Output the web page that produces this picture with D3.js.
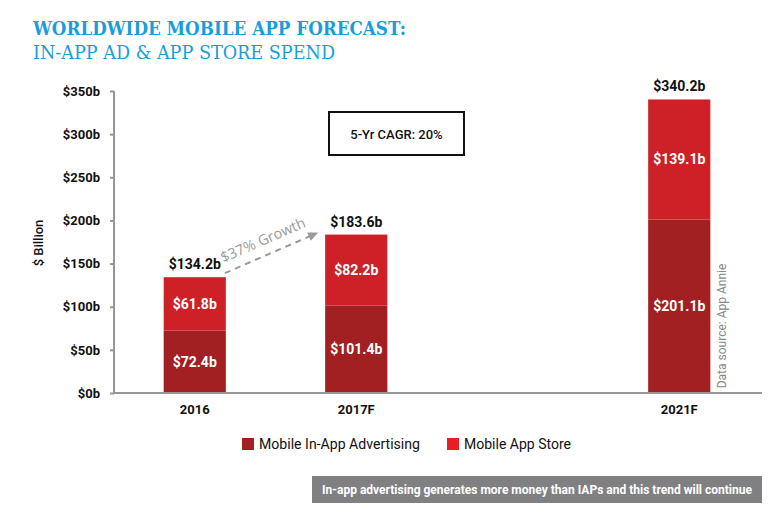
<!DOCTYPE html>
<html><head><meta charset="utf-8">
<script src="https://cdn.jsdelivr.net/npm/d3@7"></script>
<style>
html,body{margin:0;padding:0;background:#fff;}
svg{display:block;font-family:Roboto,"Open Sans",sans-serif;}
</style></head>
<body>
<svg id="c" width="777" height="515"></svg>
<script>
const categories = ["2016", "2017F", "2021F"];
const slots = ["2016", "2017F", "", "2021F"];
const adValues = [72.4, 101.4, 201.1];
const storeValues = [61.8, 82.2, 139.1];
const totals = [134.2, 183.6, 340.2];
const yTicks = [0, 50, 100, 150, 200, 250, 300, 350];
const seriesNames = ["Mobile In-App Advertising", "Mobile App Store"];

const svg = d3.select("#c");
const cAd = "#a21f22", cStore = "#cd2127", cStoreLegend = "#ec1c24";

// Title
svg.append("text").attr("x", 33).attr("y", 35)
  .attr("font-family", "'DejaVu Serif', serif").attr("font-weight", "bold")
  .attr("font-size", 19).attr("fill", "#1a9ddb")
  .attr("textLength", 373).attr("lengthAdjust", "spacingAndGlyphs")
  .text("WORLDWIDE MOBILE APP FORECAST:");
svg.append("text").attr("x", 33).attr("y", 59)
  .attr("font-family", "'DejaVu Serif', serif")
  .attr("font-size", 19).attr("fill", "#1a9ddb")
  .attr("textLength", 302).attr("lengthAdjust", "spacingAndGlyphs")
  .text("IN-APP AD & APP STORE SPEND");

const x = d3.scaleBand().domain(slots).range([114, 760]).paddingInner(0.615).paddingOuter(0.3075);
const y = d3.scaleLinear().domain([0, 350]).range([393, 91]);

// y axis
const yAxis = svg.append("g").attr("transform", "translate(114,0)")
  .call(d3.axisLeft(y).tickValues(yTicks).tickSize(4).tickPadding(10).tickFormat(d => "$" + d + "b"));
yAxis.select(".domain").attr("stroke", "#97979a").attr("stroke-width", 2).attr("d", `M0,${y(350)}V${y(0)}`);
yAxis.selectAll(".tick line").attr("stroke", "#97979a").attr("stroke-width", 2);
yAxis.selectAll(".tick text").attr("font-family", "Roboto, sans-serif").attr("font-weight", "bold")
  .attr("font-size", 13).attr("fill", "#111");

svg.append("text").attr("transform", "translate(43,243) rotate(-90)")
  .attr("text-anchor", "middle").attr("font-size", 13).attr("font-weight", 500).attr("fill", "#111")
  .text("$ Billion");

// bars
const bw = x.bandwidth();
categories.forEach((c, i) => {
  const x0 = x(c);
  svg.append("rect").attr("x", x0).attr("width", bw)
    .attr("y", y(adValues[i])).attr("height", y(0) - y(adValues[i])).attr("fill", cAd);
  svg.append("rect").attr("x", x0).attr("width", bw)
    .attr("y", y(totals[i])).attr("height", y(adValues[i]) - y(totals[i])).attr("fill", cStore);
  svg.append("text").attr("x", x0 + bw / 2).attr("y", (y(0) + y(adValues[i])) / 2)
    .attr("dy", "0.35em").attr("text-anchor", "middle").attr("fill", "#fff")
    .attr("font-weight", "bold").attr("font-size", 14).text("$" + adValues[i] + "b");
  svg.append("text").attr("x", x0 + bw / 2).attr("y", (y(adValues[i]) + y(totals[i])) / 2)
    .attr("dy", "0.35em").attr("text-anchor", "middle").attr("fill", "#fff")
    .attr("font-weight", "bold").attr("font-size", 14).text("$" + storeValues[i] + "b");
  svg.append("text").attr("x", x0 + bw / 2).attr("y", y(totals[i]) - 8)
    .attr("text-anchor", "middle").attr("fill", "#111")
    .attr("font-weight", "bold").attr("font-size", 14).text("$" + totals[i].toFixed(1) + "b");
});

// x axis
svg.append("line").attr("x1", 114).attr("x2", 762).attr("y1", y(0)).attr("y2", y(0))
  .attr("stroke", "#97979a").attr("stroke-width", 2);
categories.forEach(c => {
  svg.append("text").attr("x", x(c) + bw / 2).attr("y", 414).attr("text-anchor", "middle")
    .attr("font-weight", "bold").attr("font-size", 13).attr("fill", "#111").text(c);
});

// CAGR box
svg.append("rect").attr("x", 329).attr("y", 112).attr("width", 135).attr("height", 43)
  .attr("fill", "none").attr("stroke", "#111").attr("stroke-width", 2);
svg.append("text").attr("x", 396.5).attr("y", 134).attr("dy", "0.35em").attr("text-anchor", "middle")
  .attr("font-size", 13).attr("font-weight", 500).attr("fill", "#111").text("5-Yr CAGR: 20%");

// growth arrow
const ax1 = x("2016") + bw - 1, ay1 = y(totals[0]) - 4;
const ax2 = x("2017F") - 7, ay2 = y(totals[1]) - 2;
const ang = Math.atan2(ay2 - ay1, ax2 - ax1);
svg.append("line").attr("x1", ax1).attr("y1", ay1)
  .attr("x2", ax2 - 8 * Math.cos(ang)).attr("y2", ay2 - 8 * Math.sin(ang))
  .attr("stroke", "#9a9a9a").attr("stroke-width", 2).attr("stroke-dasharray", "6,5");
svg.append("path").attr("transform", `translate(${ax2},${ay2}) rotate(${ang * 180 / Math.PI})`)
  .attr("d", "M0,0L-10,-4.5L-10,4.5Z").attr("fill", "#9a9a9a");
const mx = (ax1 + ax2) / 2, my = (ay1 + ay2) / 2;
svg.append("text")
  .attr("transform", `translate(${mx + 9 * Math.sin(ang) - 3},${my - 9 * Math.cos(ang)}) rotate(${ang * 180 / Math.PI})`)
  .attr("text-anchor", "middle").attr("font-size", 14.5).attr("fill", "#9a9a9a")
  .attr("font-family", "'Open Sans', sans-serif").text("$37% Growth");

// data source
svg.append("text").attr("transform", "translate(726,326) rotate(-90)")
  .attr("text-anchor", "middle").attr("font-size", 12).attr("fill", "#888").text("Data source: App Annie");

// legend
const legX = [242, 447];
const legW = [161, 107];
const legC = [cAd, cStoreLegend];
seriesNames.forEach((n, i) => {
  svg.append("rect").attr("x", legX[i]).attr("y", 438).attr("width", 12).attr("height", 12).attr("fill", legC[i]);
  svg.append("text").attr("x", legX[i] + 17).attr("y", 444).attr("dy", "0.35em")
    .attr("font-size", 14.5).attr("fill", "#111")
    .attr("textLength", legW[i]).attr("lengthAdjust", "spacingAndGlyphs").text(n);
});

// footer
svg.append("rect").attr("x", 312).attr("y", 476).attr("width", 450).attr("height", 27).attr("fill", "#808083");
svg.append("text").attr("x", 537).attr("y", 490).attr("dy", "0.35em").attr("text-anchor", "middle")
  .attr("font-size", 12).attr("font-weight", "bold").attr("fill", "#fff")
  .attr("textLength", 430).attr("lengthAdjust", "spacingAndGlyphs")
  .text("In-app advertising generates more money than IAPs and this trend will continue");
</script>
</body></html>
